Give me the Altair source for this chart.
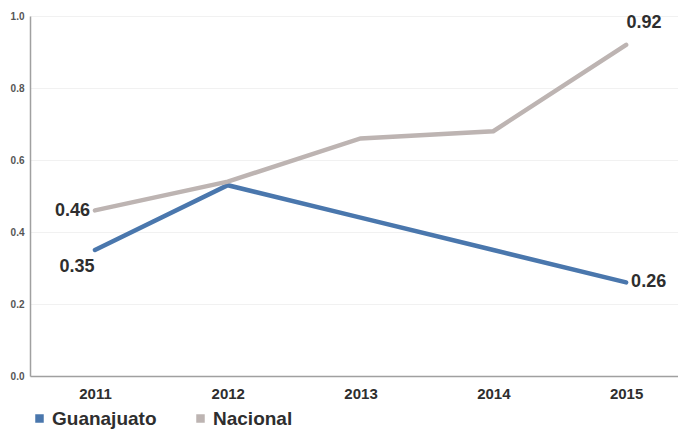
import altair as alt
import pandas as pd

years = ["2011", "2012", "2013", "2014", "2015"]
guanajuato = [0.35, 0.53, 0.44, 0.35, 0.26]
nacional = [0.46, 0.54, 0.66, 0.68, 0.92]
series_names = ["Guanajuato", "Nacional"]
colors = ["#4a77ad", "#bdb4b2"]
y_ticks = [0.0, 0.2, 0.4, 0.6, 0.8, 1.0]

rows = []
for name, vals in zip(series_names, [guanajuato, nacional]):
    for yr, v in zip(years, vals):
        rows.append({"year": yr, "value": v, "serie": name})
df = pd.DataFrame(rows)

FONT = "Liberation Sans"
TXT = "#2e2e2e"

x_scale = alt.Scale(padding=0.44, align=0.556)
x_enc = alt.X("year:N", sort=years, scale=x_scale,
              axis=alt.Axis(title=None, labelAngle=0, labelFont=FONT, labelFontSize=15,
                            labelFontWeight="bold", labelColor=TXT, ticks=False,
                            labelPadding=10, domainColor="#a0a0a0", domainWidth=1.5,
                            grid=False))
y_enc = alt.Y("value:Q", scale=alt.Scale(domain=[0, 1], nice=False),
              axis=alt.Axis(title=None, values=y_ticks, format=".1f", labelFont=FONT,
                            labelFontSize=10, labelFontWeight="bold", labelColor="#555555",
                            ticks=False, labelPadding=6, domainColor="#a0a0a0",
                            domainWidth=1.5, gridColor="#f1f1f1", gridWidth=1))

legend = alt.Legend(
    title=None, orient="none", legendX=0, legendY=393,
    direction="horizontal", symbolType="square", symbolSize=1,
    symbolStrokeWidth=7.5, symbolOpacity=1,
    labelFont=FONT, labelFontSize=19, labelFontWeight="bold", labelColor=TXT,
    labelOffset=3, columnPadding=28, padding=0,
)

lines = alt.Chart(df).mark_line(strokeWidth=4.5, strokeCap="round").encode(
    x=x_enc, y=y_enc,
    color=alt.Color("serie:N", sort=series_names,
                    scale=alt.Scale(domain=series_names, range=colors), legend=legend)
)


def label(serie, year, align, dx, dy):
    sub = df[(df.serie == serie) & (df.year == year)]
    return alt.Chart(sub).mark_text(
        font=FONT, fontSize=18, fontWeight="bold", color=TXT,
        align=align, baseline="middle", dx=dx, dy=dy
    ).encode(x=alt.X("year:N", sort=years), y="value:Q",
             text=alt.Text("value:Q", format=".2f"))


labels = [
    label("Nacional", "2011", "right", -5, 1),
    label("Guanajuato", "2011", "center", -18, 17),
    label("Nacional", "2015", "center", 18, -22),
    label("Guanajuato", "2015", "left", 5, 0),
]

chart = alt.layer(lines, *labels).properties(
    width=648, height=360,
    autosize=alt.AutoSizeParams(type="none"),
    padding={"left": 22, "top": 8, "right": 0, "bottom": 55},
    background="white",
).configure_view(stroke=None)

chart.save("out.html", embed_options={"renderer": "svg", "actions": False})
